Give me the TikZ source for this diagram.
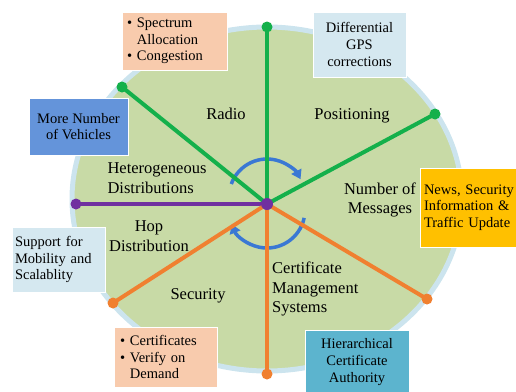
\documentclass[tikz,border=0pt]{standalone}
\usepackage{fontspec}
\setmainfont{Liberation Serif}
\usetikzlibrary{arrows.meta}

\definecolor{discfill}{RGB}{200,218,166}
\definecolor{discrim}{RGB}{204,228,238}
\definecolor{spokegreen}{RGB}{20,176,75}
\definecolor{spokepurple}{RGB}{112,48,160}
\definecolor{spokeorange}{RGB}{240,128,48}
\definecolor{turnblue}{RGB}{58,120,212}
\definecolor{peach}{RGB}{248,203,173}
\definecolor{paleblue}{RGB}{213,232,240}
\definecolor{midblue}{RGB}{100,148,218}
\definecolor{tealblue}{RGB}{92,180,206}
\definecolor{amber}{RGB}{255,192,0}

\begin{document}
\hyphenpenalty=10000
\begin{tikzpicture}[x=1pt,y=-1pt,
  spoke/.style={line width=4pt},
  sector/.style={font=\fontsize{16.5}{19.5}\selectfont, align=center, inner sep=0pt},
  infobox/.style={draw=white, line width=1pt, font=\fontsize{14.5}{16.6}\selectfont, inner ysep=0pt},
  turn/.style={turnblue, line width=3.5pt, -{Triangle[length=9pt,width=11pt]}}]

\useasboundingbox (0,0) rectangle (516,391);

% the disc with its pale rim
\filldraw[fill=discfill, draw=discrim, line width=5pt]
  (267,199) ellipse[x radius=195pt, y radius=172pt];

% hub and spoke end points
\coordinate (hub) at (267,204);
\coordinate (eN)   at (267,27);
\coordinate (eNW)  at (122,87);
\coordinate (eENE) at (435,114);
\coordinate (eW)   at (76,204);
\coordinate (eSW)  at (113,303);
\coordinate (eSE)  at (427,299);
\coordinate (eS)   at (267,374);

% turning arrows round the hub
\draw[turn] (267,197) ++(-160:38) arc[start angle=-160, end angle=-28, radius=38];
\draw[turn] (267,210) ++(12:38) arc[start angle=12, end angle=158, radius=38];

% spokes
\draw[spoke, spokegreen] (hub) -- (eN);
\draw[spoke, spokegreen] (hub) -- (eNW);
\draw[spoke, spokegreen] (hub) -- (eENE);
\draw[spoke, spokepurple] (hub) -- (eW);
\draw[spoke, spokeorange] (hub) -- (eSW);
\draw[spoke, spokeorange] (hub) -- (eSE);
\draw[spoke, spokeorange] (hub) -- (eS);

% spoke end dots
\fill[spokegreen] (eN) circle[radius=5.5pt];
\fill[spokegreen] (eNW) circle[radius=5.5pt];
\fill[spokegreen] (eENE) circle[radius=5.5pt];
\fill[spokepurple] (eW) circle[radius=5.5pt];
\fill[spokeorange] (eSW) circle[radius=5.5pt];
\fill[spokeorange] (eSE) circle[radius=5.5pt];
\fill[spokeorange] (eS) circle[radius=5.5pt];
\fill[spokepurple] (hub) circle[radius=6pt];

% sector labels
\node[sector] (radio) at (226,114) {Radio};
\node[sector] (positioning) at (352,116) {Positioning};
\node[sector, align=left] (hetero) at (157,178) {Heterogeneous\\Distributions};
\node[sector] (nummsg) at (380,200) {Number of\\Messages};
\node[sector] (hop) at (149,236) {Hop\\Distribution};
\node[sector] (security) at (198,296) {Security};
\node[sector, align=left, anchor=west] (certmgmt) at (272,289) {Certificate\\Management\\Systems};

% information boxes
\node[infobox, fill=peach, text width=95pt, inner xsep=5pt, minimum height=58pt, align=left]
  (spectrum) at (174.5,41) {\textbullet\ Spectrum\\\phantom{\textbullet\ }Allocation\\\textbullet\ Congestion};
\node[infobox, fill=paleblue, minimum width=93pt, minimum height=65pt, align=center]
  (dgps) at (359.5,44.5) {Differential\\GPS\\corrections};
\node[infobox, fill=midblue, minimum width=99pt, minimum height=57pt, align=center]
  (vehicles) at (78.5,126.5) {More Number\\of Vehicles};
\node[infobox, fill=amber, text width=91pt, inner xsep=4pt, minimum height=79pt, align=left]
  (news) at (469.5,207.5) {News, Security\\Information \&\\Traffic Update};
\node[infobox, fill=paleblue, text width=87pt, inner xsep=3pt, minimum height=65pt, align=left]
  (mobility) at (58.5,259.5) {Support for\\Mobility and\\Scalablity};
\node[infobox, fill=peach, text width=91pt, inner xsep=6pt, minimum height=60pt, align=left]
  (certs) at (165.5,357) {\textbullet\ Certificates\\\textbullet\ Verify on\\\phantom{\textbullet\ }Demand};
\node[infobox, fill=tealblue, minimum width=104pt, minimum height=64pt, align=center]
  (hca) at (357,362) {Hierarchical\\Certificate\\Authority};
\end{tikzpicture}
\end{document}
